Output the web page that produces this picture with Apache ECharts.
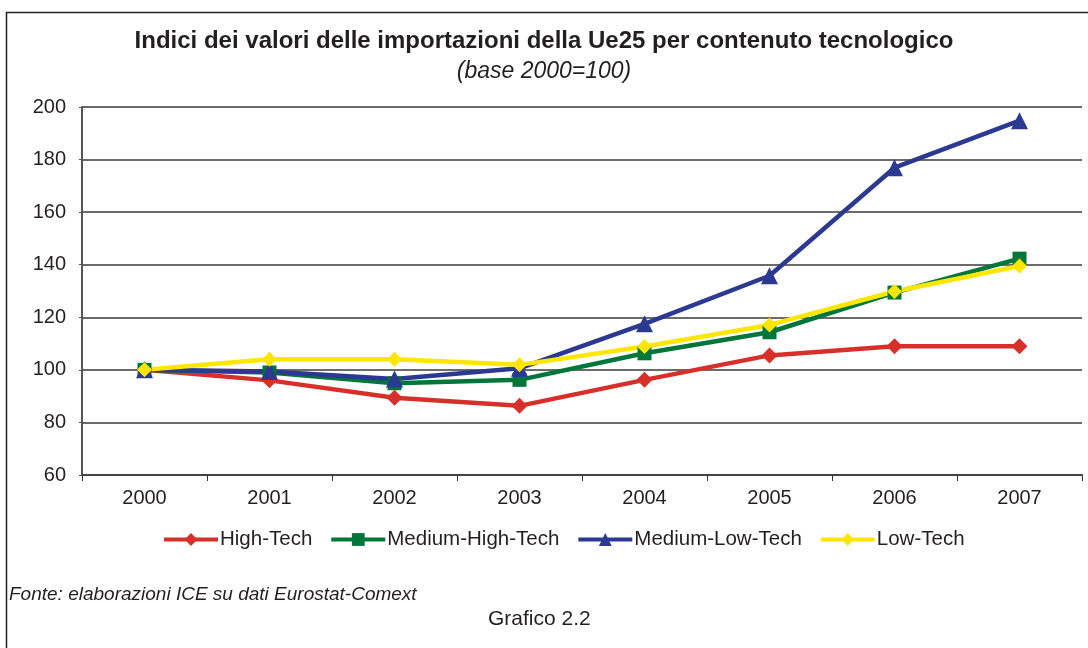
<!DOCTYPE html>
<html>
<head>
<meta charset="utf-8">
<script src="https://cdn.jsdelivr.net/npm/echarts@6/dist/echarts.min.js"></script>
<style>
html,body{margin:0;padding:0;background:#fff;}
#c{width:1088px;height:648px;}
</style>
</head>
<body>
<div id="c"></div>
<script>
var years = ['2000','2001','2002','2003','2004','2005','2006','2007'];
var highTech = [100, 96, 89.4, 86.3, 96.2, 105.5, 109, 109];
var mediumHighTech = [100, 99, 94.9, 96.2, 106.3, 114.3, 129.4, 142.3];
var mediumLowTech = [100, 99.4, 96.5, 100.6, 117.5, 135.8, 176.9, 194.8];
var lowTech = [100, 104, 104, 101.9, 108.9, 117.1, 129.8, 139.5];
var seriesNames = ['High-Tech','Medium-High-Tech','Medium-Low-Tech','Low-Tech'];

var txt = '#231f20';
var font = '"Liberation Sans", Arial, sans-serif';
var chart = echarts.init(document.getElementById('c'), null, {renderer:'canvas'});

function mk(name, data, color, symbol, size){
  return {
    name: name, type: 'line', data: data,
    symbol: symbol, symbolSize: size, showSymbol: true,
    lineStyle: {color: color, width: 4.5},
    itemStyle: {color: color},
    emphasis: {disabled: true},
    animation: false
  };
}

chart.setOption({
  animation: false,
  backgroundColor: '#fff',
  textStyle: {fontFamily: font, color: txt},
  title: [
    {text: 'Indici dei valori delle importazioni della Ue25 per contenuto tecnologico',
     left: 'center', top: 29, padding: 0,
     textStyle: {fontSize: 24, fontWeight: 'bold', color: txt, fontFamily: font}},
    {text: '(base 2000=100)', left: 'center', top: 60, padding: 0,
     textStyle: {fontSize: 23, fontWeight: 'normal', fontStyle: 'italic', color: txt, fontFamily: font}},
    {text: 'Fonte: elaborazioni ICE su dati Eurostat-Comext', left: 9, top: 585, padding: 0,
     textStyle: {fontSize: 19, fontWeight: 'normal', fontStyle: 'italic', color: txt, fontFamily: font}},
    {text: 'Grafico 2.2', left: 488, top: 609, padding: 0,
     textStyle: {fontSize: 21, fontWeight: 'normal', color: txt, fontFamily: font}}
  ],
  legend: {
    data: seriesNames,
    left: 162, top: 529, padding: 0,
    itemWidth: 54, itemHeight: 16, itemGap: 17,
    lineStyle: {width: 4},
    textStyle: {fontSize: 20.5, color: txt, fontFamily: font, padding: [0,0,0,-3]}
  },
  grid: {left: 82, right: 6, top: 107, bottom: 173, containLabel: false},
  xAxis: {
    type: 'category', data: years, boundaryGap: true,
    axisLine: {show: true, lineStyle: {color: '#444', width: 2}},
    axisTick: {show: true, length: 6, lineStyle: {color: '#333', width: 1}},
    axisLabel: {fontSize: 20, color: txt, margin: 13, fontFamily: font},
    splitLine: {show: false}
  },
  yAxis: {
    type: 'value', min: 60, max: 200, interval: 20,
    axisLine: {show: true, lineStyle: {color: '#555', width: 2}},
    axisTick: {show: true, length: 3, lineStyle: {color: '#555', width: 1}},
    axisLabel: {fontSize: 20, color: txt, margin: 16, fontFamily: font},
    splitLine: {show: true, lineStyle: {color: '#3a3a3a', width: 1.5}}
  },
  series: [
    mk(seriesNames[0], highTech, '#d7302a', 'diamond', 16),
    mk(seriesNames[1], mediumHighTech, '#00763a', 'rect', 14),
    mk(seriesNames[2], mediumLowTech, '#2b3990', 'triangle', 17),
    mk(seriesNames[3], lowTech, '#ffe600', 'diamond', 15)
  ],
  graphic: [
    {type: 'rect', silent: true, z: 100,
     shape: {x: 6.5, y: 12.5, width: 1200, height: 800},
     style: {fill: 'none', stroke: '#222', lineWidth: 1.5}}
  ]
});
</script>
</body>
</html>
